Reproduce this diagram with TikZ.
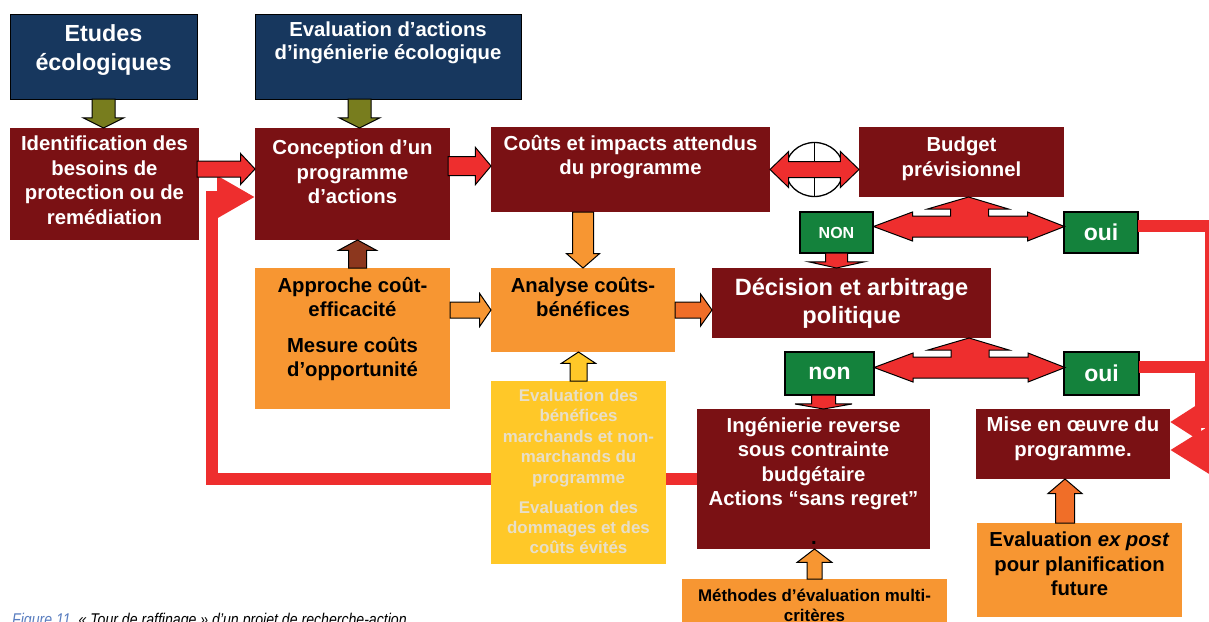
\documentclass[tikz,border=0pt]{standalone}
\usepackage{fontspec}
\setmainfont{Liberation Sans}
\usetikzlibrary{positioning,calc,shapes.arrows,shapes.geometric,arrows.meta,backgrounds}

\definecolor{bleuf}{HTML}{17375E}
\definecolor{rougef}{HTML}{7A1114}
\definecolor{orangec}{HTML}{F79632}
\definecolor{jaune}{HTML}{FFC828}
\definecolor{creme}{HTML}{E8DFC8}
\definecolor{vert}{HTML}{14823C}
\definecolor{rouge}{HTML}{EE2E2E}
\definecolor{kaki}{HTML}{787D1E}
\definecolor{brun}{HTML}{8C371E}
\definecolor{orangef}{HTML}{F06E28}
\definecolor{legbleu}{HTML}{5A7EC0}

\tikzset{
  boite/.style={rectangle, inner sep=0pt, outer sep=0pt},
  bbleu/.style={boite, fill=bleuf, draw=black, line width=1pt},
  brouge/.style={boite, fill=rougef},
  borange/.style={boite, fill=orangec},
  bjaune/.style={boite, fill=jaune},
  bvert/.style={boite, fill=vert, draw=black, line width=1.3pt, text=white,
    font=\bfseries\fontsize{23}{25}\selectfont},
  texte/.style={inner sep=0pt, align=center, text=white,
    font=\bfseries\fontsize{20.3}{24.5}\selectfont},
  fleche/.style={single arrow, draw=black, line width=1pt, inner xsep=0pt, outer sep=0pt},
  % fleches pleines : demi-largeur du corps, debord de la tete, angle de la pointe
  fkaki/.style={fill=kaki, inner ysep=11pt, single arrow head extend=9pt, single arrow tip angle=127},
  frouge1/.style={fill=rouge, inner ysep=7.5pt, single arrow head extend=7.5pt, single arrow tip angle=94},
  frouge2/.style={fill=rouge, inner ysep=9pt, single arrow head extend=9pt, single arrow tip angle=100},
  fbrun/.style={fill=brun, inner ysep=8.5pt, single arrow head extend=10pt, single arrow tip angle=123},
  forange/.style={fill=orangec, inner ysep=10pt, single arrow head extend=6pt, single arrow tip angle=98},
  forange2/.style={fill=orangec, inner ysep=7.5pt, single arrow head extend=8.5pt, single arrow tip angle=111},
  forange3/.style={fill=orangec, inner ysep=7pt, single arrow head extend=10pt, single arrow tip angle=105},
  fjaune/.style={fill=jaune, inner ysep=8pt, single arrow head extend=8.5pt, single arrow tip angle=113},
  forangef/.style={fill=orangef, inner ysep=7.5pt, single arrow head extend=8pt, single arrow tip angle=109},
  forangef2/.style={fill=orangef, inner ysep=9pt, single arrow head extend=7.5pt, single arrow tip angle=99},
  fplat/.style={fill=rouge, inner ysep=10.5pt, single arrow head extend=17pt, single arrow tip angle=155},
  fplat2/.style={fill=rouge, inner ysep=11.5pt, single arrow head extend=16.5pt, single arrow tip angle=160},
  bloc/.style={to path={let \p1=(\tikztostart), \p2=(\tikztotarget),
      \n1={veclen(\x2-\x1,\y2-\y1)}, \n2={atan2(\y2-\y1,\x2-\x1)} in
      node[fleche, #1, anchor=tail, minimum height=\n1, rotate=\n2] at (\p1) {}
      (\tikztotarget)}},
  dbloc/.style={to path={let \p1=(\tikztostart), \p2=(\tikztotarget),
      \n1={veclen(\x2-\x1,\y2-\y1)}, \n2={atan2(\y2-\y1,\x2-\x1)} in
      node[double arrow, draw=black, line width=1pt, inner xsep=0pt, inner ysep=7.5pt,
        fill=rouge, double arrow head extend=10pt, double arrow tip angle=88,
        #1, minimum height=\n1, rotate=\n2] at ($(\p1)!.5!(\p2)$) {}
      (\tikztotarget)}},
  trait/.style={draw=rouge, line width=12pt},
  tri/.pic={
    \filldraw[fill=rouge, draw=black, line width=1pt] (0,0) -- (40,12) -- (20,12)
      -- (20,19) -- (59,19) -- (59,15) -- (96,29.5) -- (59,44) -- (59,40)
      -- (-56,40) -- (-56,44) -- (-95,29.5) -- (-56,15) -- (-56,19)
      -- (-18,19) -- (-18,12) -- (-41,12) -- cycle;
  },
}

\begin{document}
\begin{tikzpicture}[x=1pt,y=-1pt]
  \useasboundingbox (0,0) rectangle (1209,621);
  % boites
  \node[bbleu, minimum width=187, minimum height=85] (etudes) at (103.5,56.5) {};
  \node[bbleu, minimum width=266, minimum height=85] (evalA) at (388,56.5) {};
  \node[brouge, minimum width=189, minimum height=112] (ident) at (104.5,184) {};
  \node[brouge, minimum width=195, minimum height=112] (concep) at (352.5,184) {};
  \node[brouge, minimum width=279, minimum height=85] (couts) at (630.5,169.5) {};
  \node[brouge, minimum width=205, minimum height=70] (budget) at (961.5,162) {};
  \node[bvert, minimum width=73, minimum height=41,
    font=\bfseries\fontsize{16}{18}\selectfont] (nonA) at (836.5,232.5) {NON};
  \node[bvert, minimum width=74, minimum height=41] (ouiA) at (1101,232.5) {oui};
  \node[brouge, texte, minimum width=279, minimum height=70,
    font=\bfseries\fontsize{23.6}{28}\selectfont] (decis) at (851.5,303)
    {Décision et arbitrage\\politique};
  \node[bvert, minimum width=89, minimum height=43] (nonB) at (829.5,373.5) {non};
  \node[bvert, minimum width=75, minimum height=43] (ouiB) at (1101.5,373.5) {oui};
  \node[borange, minimum width=195, minimum height=141] (approche) at (352.5,338.5) {};
  \node[borange, minimum width=184, minimum height=84] (analyse) at (583,310) {};
  \node[bjaune, minimum width=175, minimum height=183] (evalB) at (578.5,472.5) {};
  \node[brouge, minimum width=233, minimum height=140] (ingen) at (813.5,479) {};
  \node[brouge, minimum width=194, minimum height=70] (mise) at (1073,444) {};
  \node[borange, minimum width=205, minimum height=94] (expost) at (1079.5,570) {};
  \node[borange, minimum width=265, minimum height=61] (methodes) at (814.5,609.5) {};
  % textes
  \node[texte, font=\bfseries\fontsize{23.3}{29}\selectfont, below=10pt of etudes.north]
    (etudes-t) {Etudes\\écologiques};
  \node[texte, font=\bfseries\fontsize{20.3}{23}\selectfont, below=8pt of evalA.north]
    (evalA-t) {Evaluation d’actions\\d’ingénierie écologique};
  \node[texte, below=8pt of ident.north] (ident-t)
    {Identification des\\besoins de\\protection ou de\\remédiation};
  \node[texte, below=12pt of concep.north] (concep-t) {Conception d’un\\programme\\d’actions};
  \node[texte, below=8pt of couts.north] (couts-t) {Coûts et impacts attendus\\du programme};
  \node[texte, below=10pt of budget.north] (budget-t) {Budget\\prévisionnel};
  \node[texte, text=black, below=9pt of approche.north] (approche-t)
    {Approche coût-\\efficacité\\[11pt]Mesure coûts\\d’opportunité};
  \node[texte, text=black, below=9pt of analyse.north] (analyse-t) {Analyse coûts-\\bénéfices};
  \node[texte, text=creme, font=\bfseries\fontsize{16.9}{20.4}\selectfont,
    below=8pt of evalB.north] (evalB-t)
    {Evaluation des\\bénéfices\\marchands et non-\\marchands du\\programme\\[9.6pt]%
     Evaluation des\\dommages et des\\coûts évités};
  \node[texte, below=8pt of ingen.north] (ingen-t)
    {Ingénierie reverse\\sous contrainte\\budgétaire\\Actions “sans regret”};
  \node[texte, text=black, anchor=base] (point) at (814,544) {.};
  \node[texte, below=8pt of mise.north] (mise-t) {Mise en œuvre du\\programme.};
  \node[texte, text=black, below=9pt of expost.north] (expost-t)
    {Evaluation \textit{ex post}\\pour planification\\future};
  \node[texte, text=black, font=\bfseries\fontsize{16.9}{19.5}\selectfont,
    below=10pt of methodes.north] (methodes-t) {Méthodes d’évaluation multi-\\critères};
  % retour vers la conception
  \begin{scope}[on background layer]
    \fill[white] (0,0) rectangle (1209,621);
    \coordinate (coin) at (212,197);
    \draw[trait, -{Triangle[length=38pt,width=40pt]}] (ingen.west) -| (coin) -- (coin -| concep.west);
  \end{scope}
  % vers la mise en oeuvre
  \coordinate (coinA) at (1201,422);
  \coordinate (coinB) at (1211,450);
  \draw[trait, -{Triangle[length=31pt,width=37pt]}] ($(ouiB.east)+(0,-6.5)$) -| (coinA) -- (coinA -| mise.east);
  \draw[trait, -{Triangle[length=40pt,width=46pt]}] ($(ouiA.east)+(0,-6.5)$) -| (coinB) -- (coinB -| mise.east);
  % couts <-> budget
  \coordinate (mil) at ($(couts.east)!.5!(couts.east -| budget.west)$);
  \node[draw=black, line width=1.3pt, fill=white, ellipse, minimum width=58, minimum height=54,
    inner sep=0pt] (oeil) at (mil) {};
  \draw[line width=1.3pt] (oeil.north) -- (oeil.south);
  \path (couts.east) to[dbloc={name=f0}] (couts.east -| budget.west);
  % fleches pleines
  \path (etudes.south) to[bloc={fkaki, name=f1}] (etudes.south |- ident.north);
  \path ($(concep.north |- evalA.south)+(7,0)$) to[bloc={fkaki, name=f2}] ($(concep.north)+(7,0)$);
  \path ($(ident.east)+(-2,-15)$) to[bloc={frouge1, name=f3}] ($(concep.west)+(0,-15)$);
  \coordinate (c4) at ($(concep.east)+(-2,-18)$);
  \path (c4) to[bloc={frouge2, name=f4}] (c4 -| couts.west);
  \path ($(approche.north)+(5,0)$) to[bloc={fbrun, name=f5}] ($(concep.south)+(5,0)$);
  \path (analyse.north |- couts.south) to[bloc={forange, name=f6}] (analyse.north);
  \path (approche.east |- analyse.west) to[bloc={forange2, name=f7}] (analyse.west);
  \path (evalB.north) to[bloc={fjaune, name=f8}] (evalB.north |- analyse.south);
  \path (analyse.east) to[bloc={forangef, name=f9}] (analyse.east -| decis.west);
  \path (nonA.south) to[bloc={fplat, name=f10}] (nonA.south |- decis.north);
  \path ($(nonB.south)+(-6,0)$) to[bloc={fplat2, name=f11}] ($(nonB.south |- ingen.north)+(-6,0)$);
  \path (methodes.north) to[bloc={forange3, name=f12}] (methodes.north |- ingen.south);
  \path ($(mise.south |- expost.north)+(-8,0)$) to[bloc={forangef2, name=f13}] ($(mise.south)+(-8,0)$);
  % fleches a trois branches
  \path ($(nonA.east)!.5!(ouiA.west)$) coordinate (mA);
  \pic at (mA |- budget.south) {tri};
  \path ($(nonB.east)!.5!(ouiB.west)$) coordinate (mB);
  \pic at (mB |- decis.south) {tri};
  % legende
  \node[anchor=base west, inner sep=0pt, xscale=.83, font=\itshape\fontsize{17}{20}\selectfont]
    (legende) at (12,625) {\textcolor{legbleu}{Figure 11.}\ « Tour de raffinage » d’un projet de recherche-action};
\end{tikzpicture}
\end{document}
